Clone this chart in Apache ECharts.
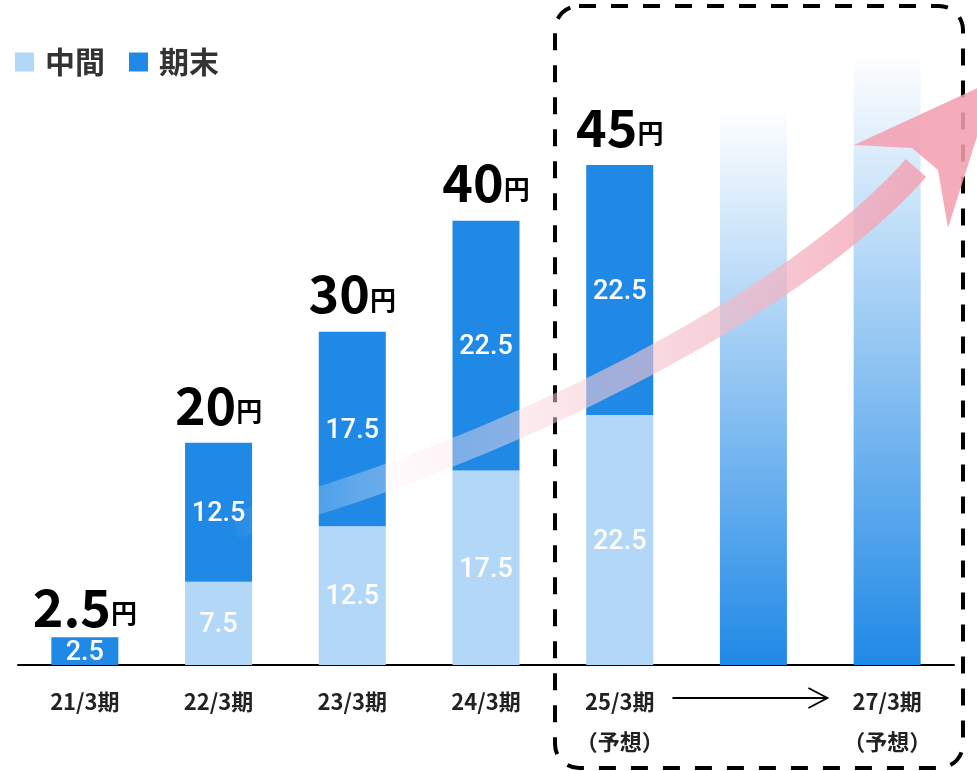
<!DOCTYPE html>
<html><head><meta charset="utf-8">
<script src="https://cdn.jsdelivr.net/npm/echarts@6/dist/echarts.min.js"></script>
<style>html,body{margin:0;padding:0;background:#fff}#c{width:977px;height:771px}</style>
</head><body><div id="c"></div>
<script>
const categories = ['21/3期', '22/3期', '23/3期', '24/3期', '25/3期\n（予想）', '', '27/3期\n（予想）'];
const interim = [0, 7.5, 12.5, 17.5, 22.5, null, null];
const finalDiv = [2.5, 12.5, 17.5, 22.5, 22.5, null, null];
const forecast = [null, null, null, null, null, 50, 55];
const totals = interim.map((v, i) => finalDiv[i] == null ? null : (v || 0) + finalDiv[i]);

const DARK = '#2089e6', LIGHT = '#b3d7f7';
const FONT = '"Noto Sans CJK JP", "Noto Sans", sans-serif';
const chart = echarts.init(document.getElementById('c'));

const innerLabel = {
  show: true, position: 'inside', offset: [0, 2], color: '#fff', fontSize: 27, fontFamily: 'Roboto, "Noto Sans", sans-serif', fontWeight: 500,
  formatter: p => (p.value ? String(p.value) : '')
};

chart.setOption({
  animation: false,
  legend: {
    data: ['中間', '期末'], left: 15, top: 47, padding: 0, icon: 'rect', itemWidth: 19, itemHeight: 19, itemGap: 24,
    textStyle: { fontSize: 30, fontWeight: 'bold', color: '#333', fontFamily: FONT, padding: [0, 0, 0, 6] }
  },
  grid: { left: 18, right: 23, top: 54, bottom: 106 },
  xAxis: {
    type: 'category', data: categories,
    axisLine: { lineStyle: { color: '#000', width: 2 } },
    axisTick: { show: false },
    axisLabel: { color: '#222', fontSize: 22, fontWeight: 'bold', fontFamily: FONT, lineHeight: 40, margin: 17, interval: 0 }
  },
  yAxis: { type: 'value', min: 0, max: 55, show: false },
  series: [
    { name: '中間', type: 'bar', stack: 's', barWidth: 67, data: interim, itemStyle: { color: LIGHT }, label: innerLabel },
    { name: '期末', type: 'bar', stack: 's', barWidth: 67, data: finalDiv, itemStyle: { color: DARK }, label: innerLabel },
    { name: 'total', type: 'bar', stack: 's', barWidth: 67,
      data: totals.map((t, i) => t == null ? null : { value: 0, label: { distance: i === 0 ? 4 : 12 } }),
      itemStyle: { color: 'transparent' },
      label: { show: true, position: 'top', fontFamily: FONT,
        formatter: p => '{a|' + totals[p.dataIndex] + '}{b|円}',
        rich: { a: { fontSize: 52, fontWeight: 'bold', color: '#000', fontFamily: FONT },
                b: { fontSize: 26, fontWeight: 'bold', color: '#000', fontFamily: FONT, padding: [12, 0, 0, 0] } } } },
    { name: 'forecast', type: 'bar', stack: 's', barWidth: 67, data: forecast,
      itemStyle: { color: new echarts.graphic.LinearGradient(0, 0, 0, 1, [
        { offset: 0, color: 'rgba(32,137,230,0)' },
        { offset: 1, color: 'rgba(32,137,230,1)' }]) } }
  ]
});

// decorations
const c5 = chart.convertToPixel({ xAxisIndex: 0 }, 5);
const ay = 698;
chart.setOption({
  graphic: [
    { type: 'rect', shape: { x: 555, y: 6, width: 408, height: 762, r: 24 }, z: 50,
      style: { fill: null, stroke: '#000', lineWidth: 4, lineDash: [17, 15] } },
    { type: 'line', shape: { x1: c5 - 81, y1: ay, x2: c5 + 73, y2: ay }, z: 50, style: { stroke: '#000', lineWidth: 1.8 } },
    { type: 'polyline', shape: { points: [[c5 + 55, ay - 10], [c5 + 74, ay], [c5 + 55, ay + 10]] }, z: 50,
      style: { stroke: '#000', lineWidth: 1.8, fill: null } },
    { type: 'bezierCurve', z: 60,
      shape: { x1: 235, y1: 525, cpx1: 500, cpy1: 455, cpx2: 795, cpy2: 305, x2: 916, y2: 168 },
      style: { fill: null, lineWidth: 27, stroke: new echarts.graphic.LinearGradient(0, 0, 1, 0, [
        { offset: 0, color: 'rgba(255,255,255,0)' },
        { offset: 0.2, color: 'rgba(255,245,247,0.3)' },
        { offset: 0.55, color: 'rgba(246,200,210,0.6)' },
        { offset: 1, color: 'rgba(242,160,178,0.85)' }]) } },
    { type: 'polygon', z: 61,
      shape: { points: [[912, 148], [854, 145], [995, 80], [948, 228], [938, 170]] },
      style: { fill: 'rgba(242,160,178,0.88)' } }
  ]
});
</script></body></html>
